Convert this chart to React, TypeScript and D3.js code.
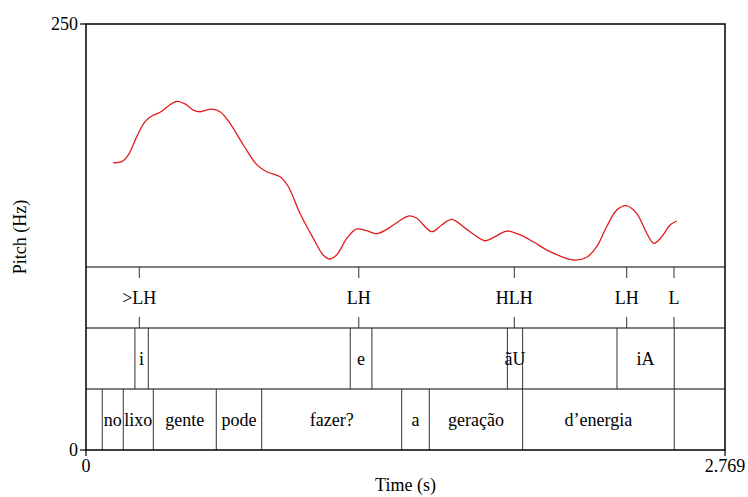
import React, { useEffect, useRef } from 'react';
import * as d3 from 'd3';

// pitch track (s, Hz)
const pitchTimes = [0.118, 0.155, 0.183, 0.220, 0.256, 0.285, 0.321, 0.357, 0.393, 0.429, 0.465, 0.494, 0.545, 0.581, 0.624, 0.682, 0.740, 0.783, 0.841, 0.877, 0.927, 0.985, 1.028, 1.054, 1.086, 1.130, 1.173, 1.216, 1.260, 1.303, 1.340, 1.397, 1.433, 1.498, 1.541, 1.585, 1.650, 1.729, 1.772, 1.823, 1.881, 1.938, 2.011, 2.112, 2.170, 2.213, 2.256, 2.300, 2.340, 2.386, 2.430, 2.461, 2.495, 2.531, 2.560];
const pitchHz = [168.6, 169.2, 173.1, 183.9, 192.7, 196.0, 198.2, 201.9, 204.6, 203.1, 199.5, 198.5, 200.1, 198.5, 191.7, 179.0, 167.5, 163.3, 160.4, 154.5, 138.9, 124.2, 114.4, 112.1, 114.4, 124.2, 129.7, 128.7, 127.0, 129.5, 132.8, 137.3, 136.0, 128.1, 132.0, 135.4, 129.5, 122.8, 125.2, 128.5, 126.2, 122.2, 116.4, 111.5, 113.1, 119.3, 131.0, 140.8, 143.4, 138.9, 127.2, 121.3, 125.2, 132.0, 134.4];

// tier 1: tones (point tier)
const toneTimes = [0.231, 1.182, 1.856, 2.343, 2.548];
const toneLabels = ['>LH', 'LH', 'HLH', 'LH', 'L'];

// tier 2: syllables (interval tier)
const sylBounds = [0.212, 0.270, 1.145, 1.239, 1.826, 1.892, 2.301, 2.549];
const sylLabels = ['', 'i', '', 'e', '', 'ãU', '', 'iA', ''];

// tier 3: words (interval tier)
const wordBounds = [0.0706, 0.1616, 0.2916, 0.5646, 0.7614, 1.368, 1.4876, 1.892, 2.549];
const wordLabels = ['', 'no', 'lixo', 'gente', 'pode', 'fazer?', 'a', 'geração', 'd’energia', ''];

const tMax = 2.769;
const yTicks = [0, 250];

export default function App() {
  const ref = useRef<SVGSVGElement>(null);

  useEffect(() => {
    const svg = d3.select(ref.current);
    svg.selectAll('*').remove();

    const left = 86, right = 725, top = 24, bottom = 450;
    const tierTops = [267, 328, 389];
    const tierH = 61;
    const font = '"Liberation Serif", "Times New Roman", serif';

    const x = d3.scaleLinear().domain([0, tMax]).range([left, right]);
    const y = d3.scaleLinear().domain([0, 250]).range([bottom, top]);

    const g = svg.append('g').style('font-family', font).style('font-size', '18px');

    // pitch curve
    const pts: [number, number][] = pitchTimes.map((t, i) => [t, pitchHz[i]]);
    const line = d3.line<[number, number]>()
      .x(d => x(d[0]))
      .y(d => y(d[1]))
      .curve(d3.curveCatmullRom.alpha(0.5));
    g.append('path')
      .attr('d', line(pts))
      .attr('fill', 'none')
      .attr('stroke', '#e31a1c')
      .attr('stroke-width', 1.3);

    // tier separators
    tierTops.forEach(ty => {
      g.append('line')
        .attr('x1', left).attr('x2', right)
        .attr('y1', ty).attr('y2', ty)
        .attr('stroke', '#000').attr('stroke-width', 1.2);
    });

    // tone tier
    const t1 = tierTops[0];
    toneTimes.forEach((t, i) => {
      const px = x(t);
      g.append('line').attr('x1', px).attr('x2', px).attr('y1', t1).attr('y2', t1 + 11)
        .attr('stroke', '#333').attr('stroke-width', 1);
      g.append('line').attr('x1', px).attr('x2', px).attr('y1', t1 + tierH - 11).attr('y2', t1 + tierH)
        .attr('stroke', '#333').attr('stroke-width', 1);
      g.append('text').attr('x', px).attr('y', t1 + tierH / 2)
        .attr('dy', '0.35em').attr('text-anchor', 'middle').text(toneLabels[i]);
    });

    // interval tiers
    const drawIntervals = (bounds: number[], labels: string[], ty: number) => {
      bounds.forEach(b => {
        g.append('line').attr('x1', x(b)).attr('x2', x(b)).attr('y1', ty).attr('y2', ty + tierH)
          .attr('stroke', '#333').attr('stroke-width', 1);
      });
      const edges = [0, ...bounds, tMax];
      labels.forEach((lab, i) => {
        if (!lab) return;
        const mid = (x(edges[i]) + x(edges[i + 1])) / 2;
        g.append('text').attr('x', mid).attr('y', ty + tierH / 2)
          .attr('dy', '0.35em').attr('text-anchor', 'middle').text(lab);
      });
    };
    drawIntervals(sylBounds, sylLabels, tierTops[1]);
    drawIntervals(wordBounds, wordLabels, tierTops[2]);

    // frame
    g.append('rect')
      .attr('x', left).attr('y', top)
      .attr('width', right - left).attr('height', bottom - top)
      .attr('fill', 'none').attr('stroke', '#000').attr('stroke-width', 1.5);

    // left axis
    yTicks.forEach(v => {
      g.append('line').attr('x1', left - 6).attr('x2', left).attr('y1', y(v)).attr('y2', y(v))
        .attr('stroke', '#000').attr('stroke-width', 1.2);
      g.append('text').attr('x', left - 8).attr('y', y(v)).attr('dy', '0.35em')
        .attr('text-anchor', 'end').text(String(v));
    });

    // bottom axis
    [0, tMax].forEach(v => {
      g.append('line').attr('x1', x(v)).attr('x2', x(v)).attr('y1', bottom).attr('y2', bottom + 6)
        .attr('stroke', '#000').attr('stroke-width', 1.2);
      g.append('text').attr('x', x(v)).attr('y', bottom + 8).attr('dy', '0.8em')
        .attr('text-anchor', 'middle').text(v === 0 ? '0' : '2.769');
    });

    g.append('text').attr('x', (left + right) / 2).attr('y', 491)
      .attr('text-anchor', 'middle').text('Time (s)');
    g.append('text')
      .attr('transform', `translate(26,${(top + bottom) / 2}) rotate(-90)`)
      .attr('text-anchor', 'middle').text('Pitch (Hz)');
  }, []);

  return (
    <svg ref={ref} width={748} height={497}
      style={{ position: 'fixed', left: 0, top: 0, background: '#fff' }} />
  );
}
